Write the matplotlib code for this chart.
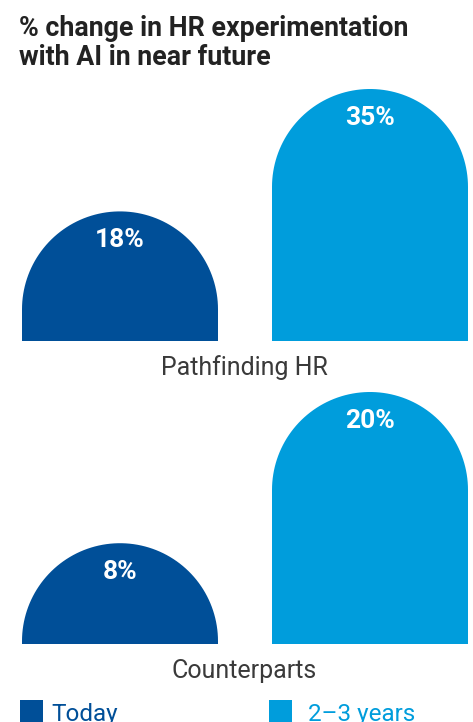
import numpy as np
import matplotlib
matplotlib.use("Agg")
import matplotlib.pyplot as plt
from matplotlib.path import Path
from matplotlib.patches import PathPatch, Rectangle

plt.rcParams['font.family'] = ['Roboto', 'DejaVu Sans']

# data
groups = ["Pathfinding HR", "Counterparts"]
series = ["Today", "2–3 years"]
today = [18, 8]
future = [35, 20]
colors = ["#004f98", "#009ddc"]

W, H = 473, 722
fig = plt.figure(figsize=(W / 100, H / 100), dpi=100)
fig.patch.set_facecolor("white")

title_lines = ["% change in HR experimentation", "with AI in near future"]
for k, line in enumerate(title_lines):
    fig.text(19 / W, 1 - (36 + 29 * k) / H, line, ha="left", va="baseline", fontsize=19.3,
             fontweight="bold", color="#222222")


def px_axes(left, top, right, bottom):
    # axes placed by pixel box (top-left origin)
    return fig.add_axes([left / W, 1 - bottom / H, (right - left) / W, (bottom - top) / H])


def round_bar(ax, x, h, width, color):
    # bar with a semicircular top, circular in screen space
    x0, x1 = ax.get_xlim()
    y0, y1 = ax.get_ylim()
    bb = ax.get_position()
    ppx = bb.width * W / (x1 - x0)
    ppy = bb.height * H / (y1 - y0)
    rx = width / 2
    ry = rx * ppx / ppy
    base = max(h - ry, 0)
    ry = min(ry, h)
    t = np.linspace(np.pi, 0, 80)
    verts = [(x - rx, 0), (x - rx, base)]
    verts += list(zip(x + rx * np.cos(t), base + ry * np.sin(t)))
    verts += [(x + rx, 0), (x - rx, 0)]
    codes = [Path.MOVETO] + [Path.LINETO] * (len(verts) - 2) + [Path.CLOSEPOLY]
    ax.add_patch(PathPatch(Path(verts, codes), facecolor=color, edgecolor="none"))
    # value label ~30px below the top
    ax.text(x, h - 29 / ppy, f"{h}%", ha="center", va="center", color="white",
            fontsize=19, fontweight="bold")


# pixel boxes of the two panels
panels = [(80, 341), (380, 644)]
width = 0.784
for i, (top, bottom) in enumerate(panels):
    ax = px_axes(0, top, W, bottom)
    vals = [today[i], future[i]]
    vmax = max(vals)
    ax.set_xlim(-0.48, 1.412)
    ax.set_ylim(0, vmax * (bottom - top) / 252)
    for j, v in enumerate(vals):
        round_bar(ax, j, v, width, colors[j])
    ax.axis("off")
    fig.text(244 / W, 1 - (bottom + 27) / H, groups[i], ha="center", va="center",
             fontsize=18, fontweight="normal", color="#3a3a3a")

# legend
for j, (lx, off, name) in enumerate(zip([20, 269], [31, 39], series)):
    fig.patches.append(Rectangle((lx / W, 0), 23 / W, 22 / H, transform=fig.transFigure,
                                 facecolor=colors[j], edgecolor="none"))
    fig.text((lx + off) / W, 1 - 714 / H, name, ha="left", va="center",
             fontsize=17.5, fontweight="normal", color=colors[j])

fig.savefig("out.png", dpi=100)
